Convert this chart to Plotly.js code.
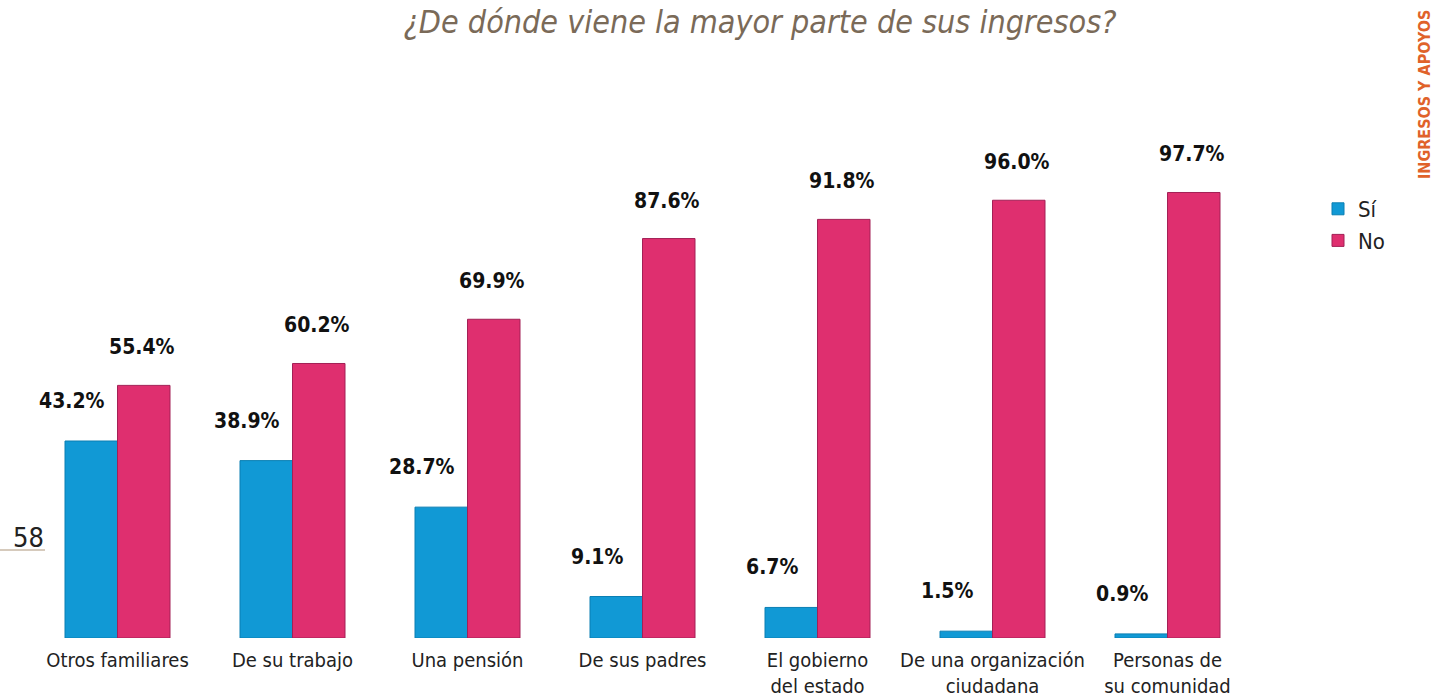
<!DOCTYPE html>
<html>
<head>
<meta charset="utf-8">
<script src="https://cdn.plot.ly/plotly-3.0.1.min.js"></script>
<style>html,body{margin:0;padding:0;background:#fff;}#chart{width:1440px;height:698px;}</style>
</head>
<body>
<div id="chart"></div>
<script>
const categories = ["Otros familiares", "De su trabajo", "Una pensión", "De sus padres", "El gobierno<br>del estado", "De una organización<br>ciudadana", "Personas de<br>su comunidad"];
const siValues = [43.2, 38.9, 28.7, 9.1, 6.7, 1.5, 0.9];
const noValues = [55.4, 60.2, 69.9, 87.6, 91.8, 96.0, 97.7];
const seriesNames = ["Sí", "No"];

const FONT = "'Liberation Sans Narrow', 'DejaVu Sans Condensed', 'Roboto Condensed', 'DejaVu Sans', sans-serif";
const BLUE = "#1199d5";
const PINK = "#df2f6f";

const traces = [
  {type: "bar", name: seriesNames[0], x: categories, y: siValues,
   marker: {color: BLUE, line: {color: "#0b7fb3", width: 1}}, hoverinfo: "skip"},
  {type: "bar", name: seriesNames[1], x: categories, y: noValues,
   marker: {color: PINK, line: {color: "#a32056", width: 1}}, hoverinfo: "skip"}
];

const annotations = [];
categories.forEach((c, i) => {
  annotations.push({x: c, y: siValues[i], xref: "x", yref: "y", text: siValues[i].toFixed(1) + "%",
    showarrow: false, yanchor: "middle", xanchor: "center", yshift: 40, xshift: -46,
    font: {family: FONT, size: 21, color: "#111", weight: 700}});
  annotations.push({x: c, y: noValues[i], xref: "x", yref: "y", text: noValues[i].toFixed(1) + "%",
    showarrow: false, yanchor: "middle", xanchor: "center", yshift: 38, xshift: 24,
    font: {family: FONT, size: 21, color: "#111", weight: 700}});
});
annotations.push({xref: "paper", yref: "paper", x: (1425 - 30) / 1225, y: (638 - 95) / 456,
  text: "INGRESOS Y APOYOS", textangle: -90, showarrow: false, xanchor: "center", yanchor: "middle",
  font: {family: FONT, size: 16, color: "#e0622a", weight: 700}});
annotations.push({xref: "paper", yref: "paper", x: (28 - 30) / 1225, y: (638 - 537) / 456,
  text: "58", showarrow: false, xanchor: "center", yanchor: "middle",
  font: {family: FONT, size: 27, color: "#222"}});

const layout = {
  width: 1440, height: 698,
  margin: {l: 30, r: 185, t: 182, b: 60},
  paper_bgcolor: "#fff", plot_bgcolor: "#fff",
  font: {family: FONT, color: "#222"},
  title: {text: "<i>¿De dónde viene la mayor parte de sus ingresos?</i>",
    x: 760 / 1440, xanchor: "center", xref: "container", y: 1 - 22 / 698, yanchor: "middle", yref: "container",
    font: {family: FONT, size: 32, color: "#7a6a58"}},
  barmode: "group", bargap: 0.4, bargroupgap: 0.0,
  xaxis: {type: "category", showgrid: false, zeroline: false, showline: false, ticks: "",
    tickfont: {family: FONT, size: 20, color: "#222"}, ticklabelstandoff: 8},
  yaxis: {range: [0, 100], visible: false, showgrid: false, zeroline: false},
  legend: {x: (1318 - 30) / 1225, y: (638 - 188) / 456, xanchor: "left", yanchor: "top",
    font: {family: FONT, size: 22, color: "#222"}, tracegroupgap: 8, itemwidth: 30, bgcolor: "rgba(0,0,0,0)"},
  showlegend: true,
  shapes: [{type: "line", xref: "paper", yref: "paper", x0: -30 / 1225, x1: 15 / 1225,
    y0: (638 - 550) / 456, y1: (638 - 550) / 456, line: {color: "#c9b8a6", width: 1.5}}],
  annotations: annotations
};

Plotly.newPlot("chart", traces, layout, {displayModeBar: false, staticPlot: true});
</script>
</body>
</html>
